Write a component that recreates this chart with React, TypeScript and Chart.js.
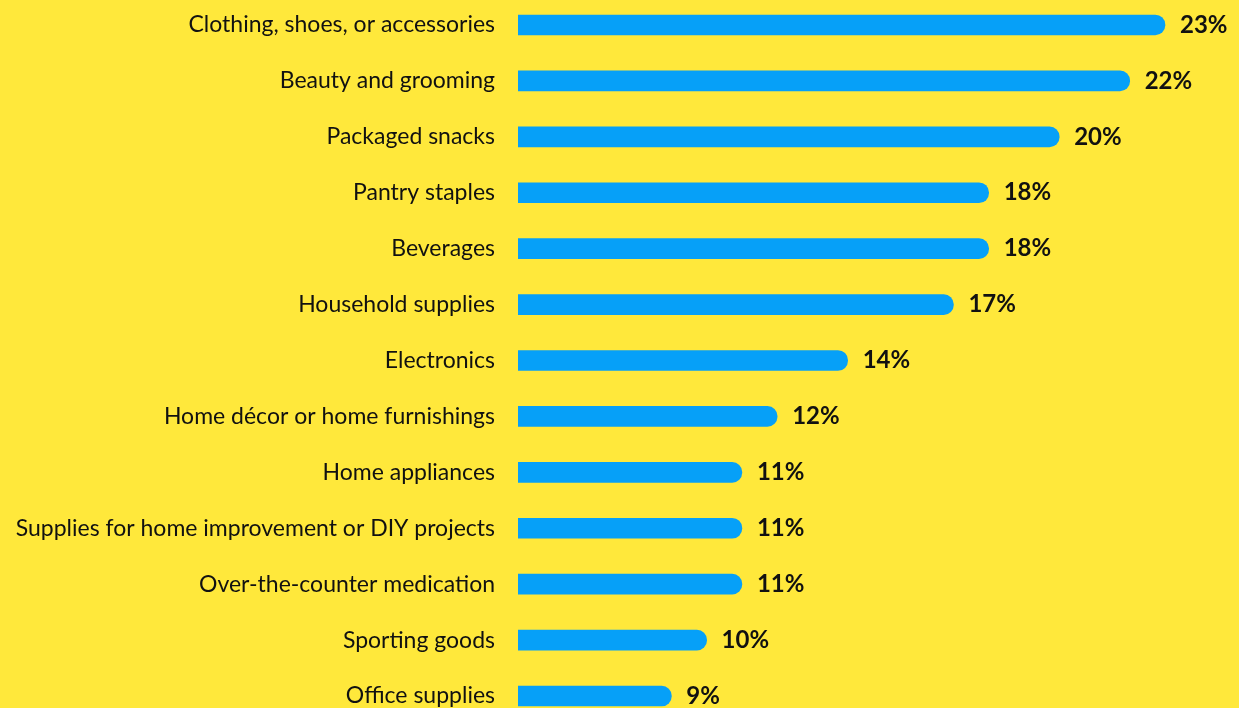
import React, { useEffect, useRef } from "react";
import { Chart, registerables } from "chart.js";

Chart.register(...registerables);

const categories = [
  "Clothing, shoes, or accessories",
  "Beauty and grooming",
  "Packaged snacks",
  "Pantry staples",
  "Beverages",
  "Household supplies",
  "Electronics",
  "Home décor or home furnishings",
  "Home appliances",
  "Supplies for home improvement or DIY projects",
  "Over-the-counter medication",
  "Sporting goods",
  "Office supplies",
];

const values = [23, 22, 20, 18, 18, 17, 14, 12, 11, 11, 11, 10, 9];

const BG = "#FFE83B";
const BAR = "#06A0F8";
const FONT = "Lato, 'Open Sans', sans-serif";

const textLabels = {
  id: "textLabels",
  afterDatasetsDraw(chart: any) {
    const ctx = chart.ctx;
    const meta = chart.getDatasetMeta(0);
    const left = chart.chartArea.left;
    ctx.save();
    ctx.textBaseline = "middle";
    meta.data.forEach((el: any, i: number) => {
      ctx.fillStyle = "#111";
      ctx.font = `23px ${FONT}`;
      ctx.textAlign = "right";
      ctx.fillText(categories[i], left - 23, el.y);
      ctx.font = `bold 24px ${FONT}`;
      ctx.textAlign = "left";
      ctx.fillText(values[i] + "%", el.x + 15, el.y);
    });
    ctx.restore();
  },
};

export default function App() {
  const ref = useRef<HTMLCanvasElement>(null);
  useEffect(() => {
    document.body.style.margin = "0";
    document.body.style.overflow = "hidden";
    document.body.style.background = BG;
    const chart = new Chart(ref.current!, {
      type: "bar",
      data: {
        labels: categories,
        datasets: [
          {
            data: values,
            backgroundColor: BAR,
            borderRadius: 10,
            borderSkipped: "start",
            barThickness: 20,
          },
        ],
      },
      options: {
        indexAxis: "y",
        animation: false,
        responsive: false,
        maintainAspectRatio: false,
        layout: { padding: 0 },
        plugins: {
          legend: { display: false },
          tooltip: { enabled: false },
        },
        scales: {
          x: {
            display: false,
            min: 4.65,
            max: 25.1,
          },
          y: {
            afterFit(scale: any) {
              scale.width = 518;
            },
            grid: { display: false, drawTicks: false },
            border: { display: false },
            ticks: { display: false },
          },
        },
      },
      plugins: [textLabels],
    });
    return () => chart.destroy();
  }, []);
  return (
    <div style={{ width: 1239, height: 708, overflow: "hidden", background: BG }}>
      <canvas
        ref={ref}
        width={1239}
        height={727}
        style={{ display: "block", marginTop: -3, width: 1239, height: 727 }}
      />
    </div>
  );
}
